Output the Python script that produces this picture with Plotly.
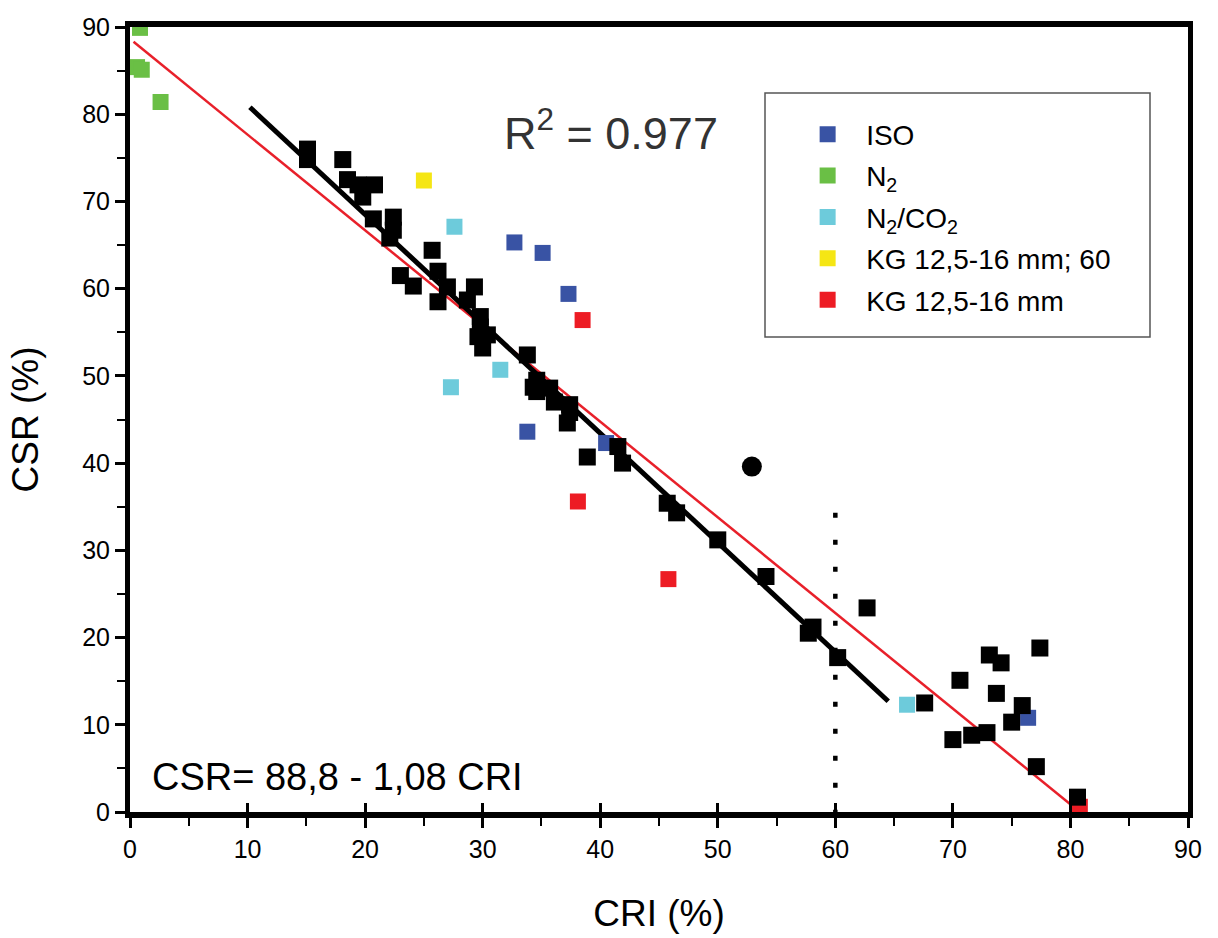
import plotly.graph_objects as go

# ---- data ----
iso_x = [32.7, 35.1, 37.3, 33.8, 40.5, 76.4]
iso_y = [65.3, 64.1, 59.4, 43.6, 42.3, 10.8]

n2_x = [0.85, 0.6, 1.0, 2.6]
n2_y = [89.9, 85.4, 85.1, 81.4]

n2co2_x = [27.6, 27.3, 31.5, 66.1]
n2co2_y = [67.1, 48.7, 50.7, 12.3]

kg60_x = [25.0]
kg60_y = [72.4]

kg_x = [38.5, 38.1, 45.8, 80.8]
kg_y = [56.4, 35.6, 26.7, 0.6]

black_x = [15.1, 15.1, 18.1, 18.5, 19.4, 20.8, 19.8, 20.7, 22.4, 22.4, 22.1, 25.7,
           23.0, 24.1, 26.2, 26.2, 27.0, 29.3, 28.7, 29.8, 29.8, 29.6, 30.0, 30.4,
           33.8, 34.3, 34.6, 34.6, 35.7, 36.1, 37.4, 37.4, 37.2, 38.9, 41.5, 41.9,
           45.7, 46.5, 50.0, 54.1, 58.1, 57.7, 60.2, 62.7, 67.6, 70.0, 71.6, 72.9,
           70.6, 73.1, 74.1, 73.7, 75.9, 75.0, 77.4, 77.1, 80.6]
black_y = [76.0, 74.8, 74.8, 72.5, 71.9, 71.9, 70.5, 68.0, 68.2, 66.7, 65.8, 64.4,
           61.5, 60.3, 62.0, 58.5, 60.2, 60.2, 58.7, 56.8, 55.6, 54.5, 53.2, 54.7,
           52.4, 48.7, 49.5, 48.2, 48.6, 47.0, 46.7, 45.8, 44.6, 40.7, 41.9, 40.0,
           35.4, 34.3, 31.2, 27.0, 21.2, 20.5, 17.7, 23.4, 12.5, 8.3, 8.8, 9.1,
           15.1, 18.0, 17.1, 13.6, 12.2, 10.3, 18.8, 5.2, 1.7]

outlier_x = [52.9]
outlier_y = [39.6]

black_fit_x = [10.2, 64.5]
black_fit_y = [80.8, 12.7]

red_fit_x = [0.3, 80.8]
red_fit_y = [88.3, 0.0]

cutoff_x = [60, 60]
cutoff_y = [34.3, 0.0]

ticks = [0, 10, 20, 30, 40, 50, 60, 70, 80, 90]

FONT = "Liberation Sans, Arial, sans-serif"

fig = go.Figure()

# lines
fig.add_trace(go.Scatter(x=red_fit_x, y=red_fit_y, mode="lines",
                         line=dict(color="#e8202a", width=2.5), showlegend=False))
fig.add_trace(go.Scatter(x=black_fit_x, y=black_fit_y, mode="lines",
                         line=dict(color="black", width=5), showlegend=False))
fig.add_trace(go.Scatter(x=cutoff_x, y=cutoff_y, mode="lines",
                         line=dict(color="black", width=4.5, dash="5px,22px"), showlegend=False))

groups = [
    ("ISO", iso_x, iso_y, "#3953a4"),
    ("N<sub>2</sub>", n2_x, n2_y, "#6abf45"),
    ("N<sub>2</sub>/CO<sub>2</sub>", n2co2_x, n2co2_y, "#6dcbdb"),
    ("KG 12,5-16 mm; 60", kg60_x, kg60_y, "#f5e614"),
    ("KG 12,5-16 mm", kg_x, kg_y, "#ed1c24"),
]
for i, (name, xs, ys, col) in enumerate(groups):
    fig.add_trace(go.Scatter(x=xs, y=ys, mode="markers", name=name, legendgroup=f"g{i}",
                             marker=dict(symbol="square", size=16, color=col, line=dict(width=0))))

fig.add_trace(go.Scatter(x=black_x, y=black_y, mode="markers", showlegend=False,
                         marker=dict(symbol="square", size=17, color="black", line=dict(width=0))))
fig.add_trace(go.Scatter(x=outlier_x, y=outlier_y, mode="markers", showlegend=False,
                         marker=dict(symbol="circle", size=20, color="black", line=dict(width=0))))

# empty trace so the overlaying tick axis (inner ticks) gets drawn
fig.add_trace(go.Scatter(x=[], y=[], xaxis="x2", mode="markers", showlegend=False, hoverinfo="skip"))

axis_common = dict(
    range=[0, 90], tickvals=ticks, ticktext=[str(t) for t in ticks],
    showgrid=False, zeroline=False, showline=True, linecolor="black", mirror=True,
    ticks="outside", ticklen=10, tickwidth=3, tickcolor="black",
    minor=dict(ticks="outside", ticklen=8, tickwidth=2, tickcolor="black", dtick=5, showgrid=False),
    tickfont=dict(family=FONT, size=25, color="black"),
    automargin=False,
)

fig.update_layout(
    width=1218, height=938,
    margin=dict(l=130, r=30, t=27, b=126),
    paper_bgcolor="white", plot_bgcolor="white",
    font=dict(family=FONT, color="black"),
    xaxis=dict(**axis_common, linewidth=6,
               title=dict(text="CRI (%)", font=dict(family=FONT, size=37, color="black"), standoff=40)),
    xaxis2=dict(overlaying="x", anchor="y", side="bottom", range=[0, 90], tickvals=ticks,
                ticks="inside", ticklen=9, tickwidth=3, tickcolor="black",
                showticklabels=False, showline=False, showgrid=False, zeroline=False),
    yaxis=dict(**axis_common, linewidth=5,
               title=dict(text="CSR (%)", font=dict(family=FONT, size=37, color="black"), standoff=34)),
    legend=dict(x=0.623, y=0.895, xanchor="left", yanchor="top",
                bgcolor="rgba(0,0,0,0)", borderwidth=0,
                font=dict(family=FONT, size=28, color="black"),
                tracegroupgap=2, itemsizing="trace", itemwidth=67),
    shapes=[dict(type="rect", xref="paper", yref="paper",
                 x0=(765 - 130) / 1058, x1=(1150 - 130) / 1058,
                 y0=(812 - 337) / 785, y1=(812 - 93) / 785,
                 line=dict(color="#555555", width=1.5), fillcolor="white", layer="below")],
    annotations=[
        dict(text="R<sup>2</sup> = 0.977", xref="paper", yref="paper",
             x=(611 - 130) / 1058, y=(812 - 130) / 785, xanchor="center", yanchor="middle",
             showarrow=False, font=dict(family=FONT, size=45, color="#333333")),
        dict(text="CSR= 88,8 - 1,08 CRI", xref="paper", yref="paper",
             x=(150 - 130) / 1058, y=(812 - 777) / 785, xanchor="left", yanchor="middle",
             showarrow=False, font=dict(family=FONT, size=38, color="black")),
    ],
)

fig.write_html("out.html")
